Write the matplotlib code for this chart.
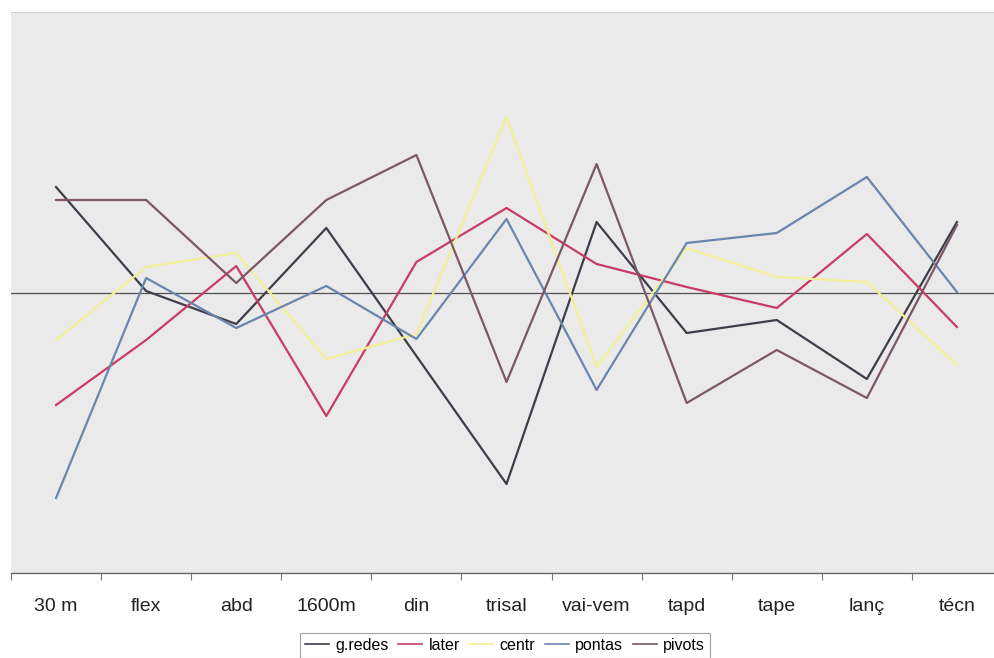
import numpy as np
import matplotlib.pyplot as plt

plt.rcParams['font.family'] = ['Liberation Sans', 'DejaVu Sans']

categories = ["30 m", "flex", "abd", "1600m", "din", "trisal",
              "vai-vem", "tapd", "tape", "lanç", "técn"]

g_redes = [1.06, 0.02, -0.31, 0.65, -0.63, -1.91, 0.71, -0.40, -0.27, -0.86, 0.71]
later = [-1.12, -0.47, 0.27, -1.23, 0.31, 0.85, 0.29, 0.06, -0.15, 0.59, -0.34]
centr = [-0.47, 0.26, 0.40, -0.66, -0.41, 1.76, -0.74, 0.45, 0.16, 0.11, -0.72]
pontas = [-2.05, 0.15, -0.35, 0.07, -0.46, 0.74, -0.97, 0.50, 0.60, 1.16, 0.01]
pivots = [0.93, 0.93, 0.10, 0.93, 1.38, -0.89, 1.29, -1.10, -0.57, -1.05, 0.68]

series = [
    ("g.redes", g_redes, "#3e3e4a"),
    ("later", later, "#c83c66"),
    ("centr", centr, "#f2f096"),
    ("pontas", pontas, "#6a86ae"),
    ("pivots", pivots, "#7a5868"),
]

W, H = 994, 658
fig = plt.figure(figsize=(W / 100, H / 100), dpi=100)
fig.patch.set_facecolor("white")

left, right, top, bottom = 11, 1002, 12, 573
ax = fig.add_axes([left / W, 1 - bottom / H, (right - left) / W, (bottom - top) / H])
ax.set_facecolor("#eaeaea")

x = np.arange(len(categories))
ax.axhline(0, color="#505050", linewidth=0.9, zorder=1)
for name, vals, col in series:
    ax.plot(x, vals, color=col, linewidth=1.6, label=name, zorder=2)

ax.set_xlim(-0.5, len(categories) - 0.5)
ax.set_ylim(-2.8, 2.81)

# category labels sit between the tick marks
ax.set_xticks(x)
ax.set_xticklabels(categories, fontsize=14, color="#222222")
ax.tick_params(axis="x", which="major", length=0, pad=18)
ax.set_xticks(np.arange(-0.5, len(categories)), minor=True)
ax.tick_params(axis="x", which="minor", length=5, width=0.8, color="#777777", direction="out")
ax.set_yticks([])

for side in ["left", "right"]:
    ax.spines[side].set_visible(False)
ax.spines["top"].set_color("#cfcfcf")
ax.spines["top"].set_linewidth(0.8)
ax.spines["bottom"].set_color("#666666")
ax.spines["bottom"].set_linewidth(1.0)

leg = fig.legend(loc="upper center", bbox_to_anchor=(505 / W, 1 - 633 / H), ncol=5,
                 fontsize=11.5, frameon=True, fancybox=False, edgecolor="#888888",
                 handlelength=1.5, handletextpad=0.4, columnspacing=0.6,
                 borderpad=0.3, borderaxespad=0)
leg.get_frame().set_linewidth(0.8)
for line in leg.get_lines():
    line.set_linewidth(1.2)

plt.savefig("out.png", dpi=100)
